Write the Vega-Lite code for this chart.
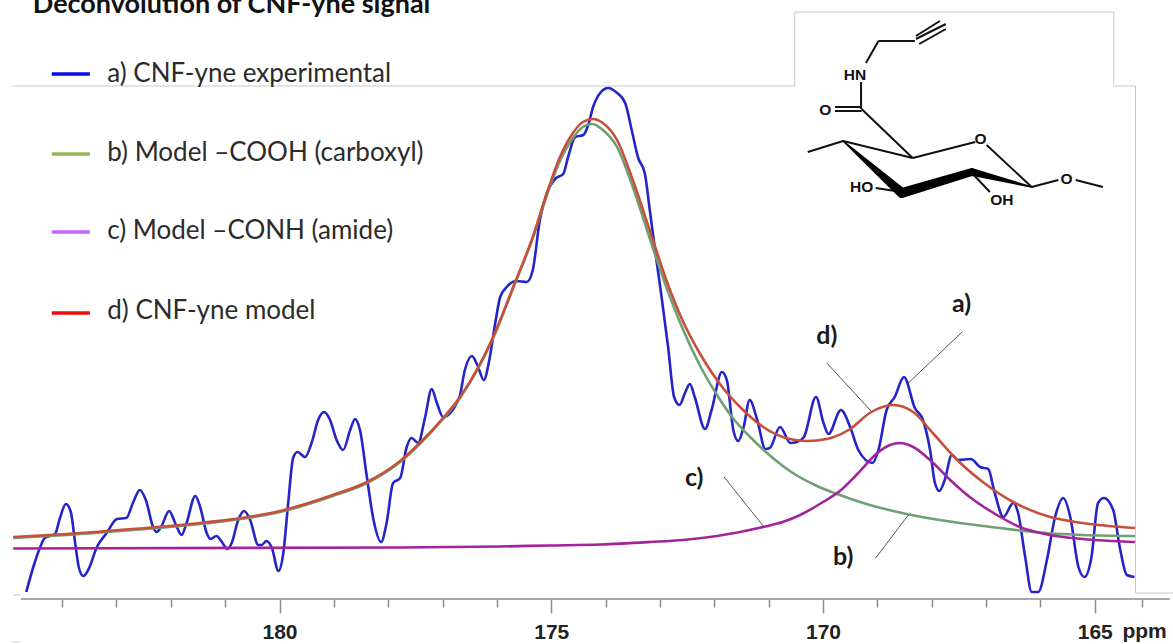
{"$schema":"https://vega.github.io/schema/vega-lite/v6.json","width":1173,"height":644,"padding":0,"autosize":{"type":"none"},"background":"white","config":{"view":{"stroke":null}},
"datasets":{
"spectrum":[
{"series":"a","rows":[[184.66,-44],[184.53,-19],[184.41,0],[184.32,10],[184.13,14],[184.04,30],[183.93,44],[183.84,36],[183.76,5],[183.69,-20],[183.61,-28],[183.52,-22],[183.36,1],[183.18,15],[182.99,29],[182.82,30],[182.69,46],[182.57,58],[182.46,48],[182.32,20],[182.26,16],[182.18,21],[182.03,37],[181.92,25],[181.8,13],[181.71,25],[181.55,52],[181.46,41],[181.34,15],[181.27,9],[181.16,12],[181.06,6],[180.96,-1],[180.88,5],[180.76,28],[180.65,37],[180.54,28],[180.39,3],[180.33,3],[180.24,7],[180.14,0],[180.02,-23],[179.93,-5],[179.84,45],[179.75,90],[179.67,96],[179.53,91],[179.41,105],[179.29,128],[179.18,136],[179.07,128],[178.95,108],[178.83,98],[178.7,118],[178.61,129],[178.52,118],[178.39,70],[178.27,28],[178.13,6],[178.03,25],[177.91,65],[177.78,70],[177.66,101],[177.57,110],[177.45,105],[177.32,131],[177.2,159],[177.11,146],[176.99,131],[176.69,151],[176.59,178],[176.46,192],[176.36,183],[176.24,168],[176.14,188],[176.03,225],[175.94,251],[175.82,261],[175.64,267],[175.45,266],[175.34,278],[175.21,328],[175.08,355],[174.91,370],[174.78,374],[174.69,391],[174.56,411],[174.41,413],[174.32,423],[174.23,441],[174.1,455],[173.95,460],[173.81,456],[173.64,445],[173.52,418],[173.4,390],[173.28,375],[173.18,335],[173.09,298],[172.97,251],[172.85,201],[172.74,151],[172.64,143],[172.54,155],[172.45,164],[172.36,151],[172.17,119],[172.05,138],[171.86,176],[171.77,168],[171.65,118],[171.56,107],[171.46,121],[171.35,148],[171.21,128],[171.06,99],[170.98,100],[170.79,121],[170.6,105],[170.48,106],[170.35,111],[170.13,151],[169.99,125],[169.9,114],[169.67,138],[169.5,121],[169.35,98],[169.09,85],[168.98,98],[168.83,138],[168.68,151],[168.51,171],[168.31,140],[168.16,128],[168.03,98],[167.94,65],[167.86,57],[167.76,68],[167.63,93],[167.51,88],[167.28,89],[167.11,81],[166.96,79],[166.84,55],[166.68,31],[166.5,45],[166.41,35],[166.28,-9],[166.16,-44],[166.04,-44],[165.88,-12],[165.73,31],[165.58,50],[165.45,31],[165.3,-19],[165.19,-29],[165.06,-9],[164.94,45],[164.83,50],[164.66,38],[164.54,1],[164.41,-27],[164.27,-29]]},
{"series":"b","rows":[[184.9,10],[183.91,13],[182.7,18],[181.46,24],[179.99,36],[179.02,52],[178.39,65],[177.78,86],[177.42,104],[176.99,129],[176.68,150],[176.35,179],[176.07,210],[175.7,260],[175.34,310],[175.08,353],[174.84,387],[174.6,410],[174.42,421],[174.25,424],[174.05,418],[173.79,401],[173.5,361],[173.13,300],[172.87,259],[172.58,219],[172.26,182],[171.95,153],[171.66,130],[171.34,111],[171.03,95],[170.61,77],[170.11,62],[169.74,54],[169.26,45],[168.71,37],[168.08,30],[167.48,25],[166.74,20],[166.14,16],[165.22,13],[164.26,12]]},
{"series":"c","rows":[[184.9,-0.5],[177.78,0.5],[175.94,1.5],[175.04,2.5],[174.1,3.5],[173.18,6],[172.58,8],[171.95,12],[171.1,21],[170.74,26],[170.42,33],[170,46],[169.69,57],[169.37,74],[169,95],[168.77,103],[168.58,105],[168.34,101],[168.03,88],[167.66,68],[167.3,51],[166.8,33],[166.38,21],[165.82,13],[165.22,9],[164.26,6]]},
{"series":"d","rows":[[184.9,11],[183.91,14],[182.7,19],[181.46,25],[179.99,37],[179.02,53],[178.39,66],[177.78,87],[177.42,105],[176.99,130],[176.68,151],[176.35,180],[176.07,211],[175.7,261],[175.34,311],[175.08,355],[174.84,391],[174.6,415],[174.42,426],[174.23,429],[174.05,425],[173.79,408],[173.5,368],[173.13,308],[172.87,266],[172.58,227],[172.26,194],[171.84,160],[171.47,138],[171.1,121],[170.74,111],[170.29,107],[169.93,109],[169.5,119],[169.14,135],[168.71,143],[168.34,136],[167.98,115],[167.53,88],[167.06,66],[166.5,46],[165.82,31],[165.22,25],[164.26,20]]}
],
"legendRows":[
{"series":"a","ppm":184.19,"ppmEnd":183.49,"intensity":474,"text":"a) CNF-yne experimental","base":466},
{"series":"b","ppm":184.19,"ppmEnd":183.49,"intensity":394,"text":"b) Model –COOH (carboxyl)","base":387},
{"series":"c","ppm":184.19,"ppmEnd":183.49,"intensity":316,"text":"c) Model –CONH (amide)","base":309},
{"series":"d","ppm":184.19,"ppmEnd":183.49,"intensity":235,"text":"d) CNF-yne model","base":229}
],
"frame":[
{"g":"f1","o":1,"ppm":184.92,"intensity":462},{"g":"f1","o":2,"ppm":170.52,"intensity":462},{"g":"f1","o":3,"ppm":170.52,"intensity":536},{"g":"f1","o":4,"ppm":164.65,"intensity":536},{"g":"f1","o":5,"ppm":164.65,"intensity":462},{"g":"f1","o":6,"ppm":164.25,"intensity":462},{"g":"f1","o":7,"ppm":164.25,"intensity":-45},{"g":"f1","o":8,"ppm":163.56,"intensity":-45},
{"g":"f2","o":1,"ppm":184.9,"intensity":-47},{"g":"f2","o":2,"ppm":184.77,"intensity":-47},
{"g":"f3","o":1,"ppm":184.92,"intensity":-94},{"g":"f3","o":2,"ppm":184.77,"intensity":-94}
],
"leaders":[
{"g":"a","ppm":168.43,"intensity":165},{"g":"a","ppm":167.44,"intensity":216},
{"g":"d","ppm":169.93,"intensity":185},{"g":"d","ppm":169.1,"intensity":136},
{"g":"c","ppm":171.82,"intensity":71},{"g":"c","ppm":171.1,"intensity":22},
{"g":"b","ppm":168.43,"intensity":33},{"g":"b","ppm":169.03,"intensity":-10}
],
"leaderText":[
{"t":"a)","ppm":167.45,"intensity":244},{"t":"d)","ppm":169.93,"intensity":212},{"t":"c)","ppm":172.37,"intensity":70},{"t":"b)","ppm":169.63,"intensity":-9}
],
"bonds":[
{"g":"1","ppm":170.28,"intensity":396},{"g":"1","ppm":169.63,"intensity":407},
{"g":"2","ppm":169.63,"intensity":407},{"g":"2","ppm":168.35,"intensity":390},
{"g":"3","ppm":168.35,"intensity":390},{"g":"3","ppm":167.2,"intensity":406},
{"g":"4","ppm":166.99,"intensity":403},{"g":"4","ppm":166.16,"intensity":361},
{"g":"5","ppm":166.16,"intensity":361},{"g":"5","ppm":165.67,"intensity":368},
{"g":"6","ppm":165.35,"intensity":368},{"g":"6","ppm":164.85,"intensity":361},
{"g":"7","ppm":168.35,"intensity":390},{"g":"7","ppm":169.29,"intensity":439},
{"g":"8","ppm":169.78,"intensity":441},{"g":"8","ppm":169.31,"intensity":441},
{"g":"9","ppm":169.78,"intensity":437},{"g":"9","ppm":169.29,"intensity":437},
{"g":"10","ppm":169.3,"intensity":466},{"g":"10","ppm":169.3,"intensity":439},
{"g":"11","ppm":169.21,"intensity":485},{"g":"11","ppm":168.98,"intensity":507},
{"g":"12","ppm":168.98,"intensity":507},{"g":"12","ppm":168.31,"intensity":507},
{"g":"13","ppm":168.29,"intensity":512},{"g":"13","ppm":167.85,"intensity":527},
{"g":"14","ppm":168.29,"intensity":509},{"g":"14","ppm":167.74,"intensity":524},
{"g":"15","ppm":168.23,"intensity":504},{"g":"15","ppm":167.74,"intensity":519},
{"g":"16","ppm":169.03,"intensity":360},{"g":"16","ppm":168.55,"intensity":356},
{"g":"17","ppm":167.26,"intensity":375},{"g":"17","ppm":166.93,"intensity":356}
],
"wedge":[
{"o":1,"w":0,"ppm":169.63,"intensity":407},{"o":2,"w":1,"ppm":168.55,"intensity":355},{"o":3,"w":0.75,"ppm":167.26,"intensity":376},{"o":4,"w":0,"ppm":166.16,"intensity":361}
],
"atoms":[
{"t":"HN","ppm":169.41,"intensity":473},{"t":"O","ppm":169.96,"intensity":438},{"t":"O","ppm":167.1,"intensity":409},{"t":"HO","ppm":169.29,"intensity":361},{"t":"OH","ppm":166.71,"intensity":348},{"t":"O","ppm":165.52,"intensity":369}
],
"axisLine":[{"ppm":184.76,"ppmEnd":163.62,"intensity":-51}],
"unit":[{"t":"ppm","ppm":164.49,"intensity":-84}],
"heading":[{"t":"Deconvolution of CNF-yne signal","ppm":184.54,"intensity":535}]
},
"encoding":{
"x":{"field":"ppm","type":"quantitative","scale":{"domain":[185.143,163.56],"nice":false,"zero":false},"axis":{"title":null,"grid":false,"domain":false,"offset":-45,"values":[184,183,182,181,180,179,178,177,176,175,174,173,172,171,170,169,168,167,166,165,164.13],"labelExpr":"datum.value % 5 === 0 ? datum.value : ''","labelOverlap":false,"labelFlush":false,"labelFont":"Liberation Sans","labelFontWeight":"bold","labelFontSize":21,"labelColor":"#222222","labelPadding":8,"tickColor":"#8c8c8c","tickWidth":1.5,"tickSize":{"condition":{"test":"datum.value % 5 === 0","value":14},"value":8}}},
"y":{"field":"intensity","type":"quantitative","scale":{"domain":[-96,548],"nice":false,"zero":false},"axis":null}
},
"layer":[
{"data":{"name":"frame"},"mark":{"type":"line","color":"#c9c9c9","strokeWidth":1},"encoding":{"detail":{"field":"g"},"order":{"field":"o"}}},
{"data":{"name":"axisLine"},"mark":{"type":"rule","color":"#a8a8a8","strokeWidth":2},"encoding":{"x2":{"field":"ppmEnd"}}},
{"data":{"name":"spectrum"},"transform":[{"flatten":["rows"]},{"calculate":"datum.rows[0]","as":"ppm"},{"calculate":"datum.rows[1]","as":"intensity"}],"mark":{"type":"line","interpolate":"monotone","strokeWidth":2.6},"encoding":{"color":{"field":"series","type":"nominal","legend":null,"scale":{"domain":["a","b","c","d"],"range":["#2424c8","#6f9f72","#a3239b","#c6503a"]}},"detail":{"field":"series"}}},
{"data":{"name":"leaders"},"mark":{"type":"line","color":"#555555","strokeWidth":1},"encoding":{"detail":{"field":"g"},"order":{"field":"intensity"}}},
{"data":{"name":"leaderText"},"mark":{"type":"text","font":"Lato","fontWeight":"bold","fontSize":25,"color":"#1a1a1a"},"encoding":{"text":{"field":"t"}}},
{"data":{"name":"legendRows"},"mark":{"type":"rule","strokeWidth":3.6},"encoding":{"x2":{"field":"ppmEnd"},"color":{"field":"series","type":"nominal","legend":null,"scale":{"domain":["a","b","c","d"],"range":["#0a0ae6","#93b75a","#c566f5","#f00a0a"]}}}},
{"data":{"name":"legendRows"},"transform":[{"calculate":"183.17","as":"ppm"},{"calculate":"datum.base","as":"intensity"}],"mark":{"type":"text","align":"left","baseline":"alphabetic","font":"Lato","fontSize":26,"color":"#2b2b2b"},"encoding":{"text":{"field":"text"}}},
{"data":{"name":"heading"},"mark":{"type":"text","align":"left","baseline":"alphabetic","font":"Lato","fontWeight":"bold","fontSize":27,"color":"#111111"},"encoding":{"text":{"field":"t"}}},
{"data":{"name":"unit"},"mark":{"type":"text","align":"left","font":"Liberation Sans","fontWeight":"bold","fontSize":21,"color":"#222222"},"encoding":{"text":{"field":"t"}}},
{"data":{"name":"bonds"},"mark":{"type":"line","color":"#111111","strokeWidth":2},"encoding":{"detail":{"field":"g"},"order":{"field":"g"}}},
{"data":{"name":"wedge"},"mark":{"type":"trail","color":"#000000"},"encoding":{"size":{"field":"w","type":"quantitative","legend":null,"scale":{"domain":[0,1],"range":[1.5,10]}},"order":{"field":"o"}}},
{"data":{"name":"atoms"},"mark":{"type":"text","font":"Liberation Sans","fontSize":15.5,"fontWeight":"bold","color":"#111111"},"encoding":{"text":{"field":"t"}}}
],
"resolve":{"scale":{"color":"independent"}}
}
